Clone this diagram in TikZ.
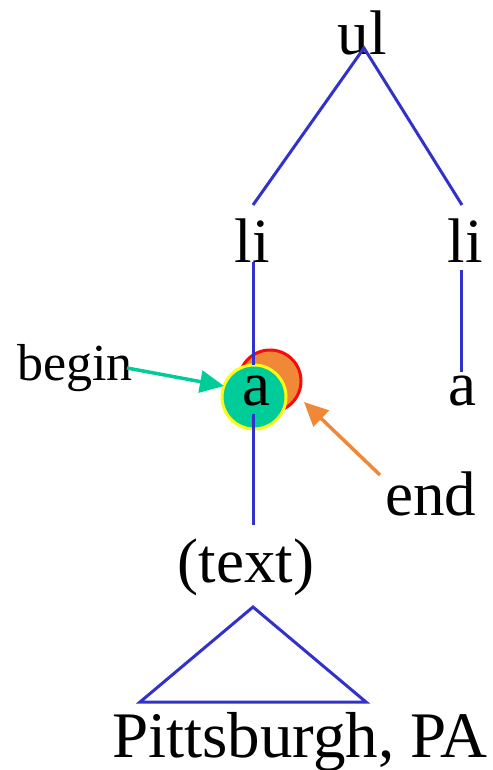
\documentclass[tikz,border=0pt]{standalone}
\usepackage{fontspec}
\setmainfont{Liberation Serif}
\usetikzlibrary{arrows.meta}
\definecolor{treeblue}{RGB}{50,50,200}
\definecolor{begingreen}{RGB}{0,204,153}
\definecolor{endorange}{RGB}{240,136,56}
\definecolor{ringred}{RGB}{250,10,10}
\definecolor{ringyellow}{RGB}{255,250,20}
\tikzset{
  lbl/.style={inner sep=0pt, anchor=base, font=\fontsize{63}{63}\selectfont},
  biglbl/.style={inner sep=0pt, anchor=base, font=\fontsize{65}{65}\selectfont},
  smalllbl/.style={inner sep=0pt, anchor=base, font=\fontsize{52}{52}\selectfont},
  edge/.style={draw=treeblue, line width=3pt},
  ptr/.style={line width=3.5pt, -{Triangle[length=24pt,width=22pt]}},
}
\begin{document}
\begin{tikzpicture}[x=1pt,y=-1pt]
\useasboundingbox (0,0) rectangle (492,770);
% markers
\node[circle, minimum size=62pt, inner sep=0pt, fill=endorange, draw=ringred, line width=3pt] (endc) at (270,381) {};
\node[circle, minimum size=64pt, inner sep=0pt, fill=begingreen, draw=ringyellow, line width=3pt] (beginc) at (254,397) {};
% labels
\node[lbl] (ul) at (362,55) {ul};
\node[lbl] (li1) at (252,262) {li};
\node[lbl] (li2) at (465,262) {li};
\node[lbl] (a1) at (256,405) {a};
\node[lbl] (a2) at (462,405) {a};
\node[lbl] (txt) at (246,582) {(text)};
\node[biglbl] (pitt) at (300,757) {Pittsburgh, PA};
\node[smalllbl] (beg) at (75,380) {begin};
\node[lbl] (endl) at (431,515) {end};
% connector end points
\coordinate (ulb) at (364,48);
\coordinate (li1t) at (253,205);
\coordinate (li2t) at (462,205);
\coordinate (li1b) at (253,262);
\coordinate (a1t) at (253,365);
\coordinate (li2b) at (461,270);
\coordinate (a2t) at (461,372);
\coordinate (a1b) at (253,414);
\coordinate (txtt) at (253,525);
\coordinate (tria) at (253,607);
\coordinate (tril) at (140,702);
\coordinate (trir) at (366,702);
\coordinate (begs) at (127,368);
\coordinate (bege) at (224,386);
\coordinate (ends) at (380,475);
\coordinate (ende) at (304,402);
% tree
\draw[edge] (li1t) -- (ulb) -- (li2t);
\draw[edge] (li1b) -- (a1t);
\draw[edge] (a1b) -- (txtt);
\draw[edge] (li2b) -- (a2t);
\draw[edge, line join=miter] (tria) -- (trir) -- (tril) -- cycle;
% pointers
\draw[ptr, begingreen] (begs) -- (bege);
\draw[ptr, endorange] (ends) -- (ende);
\end{tikzpicture}
\end{document}
